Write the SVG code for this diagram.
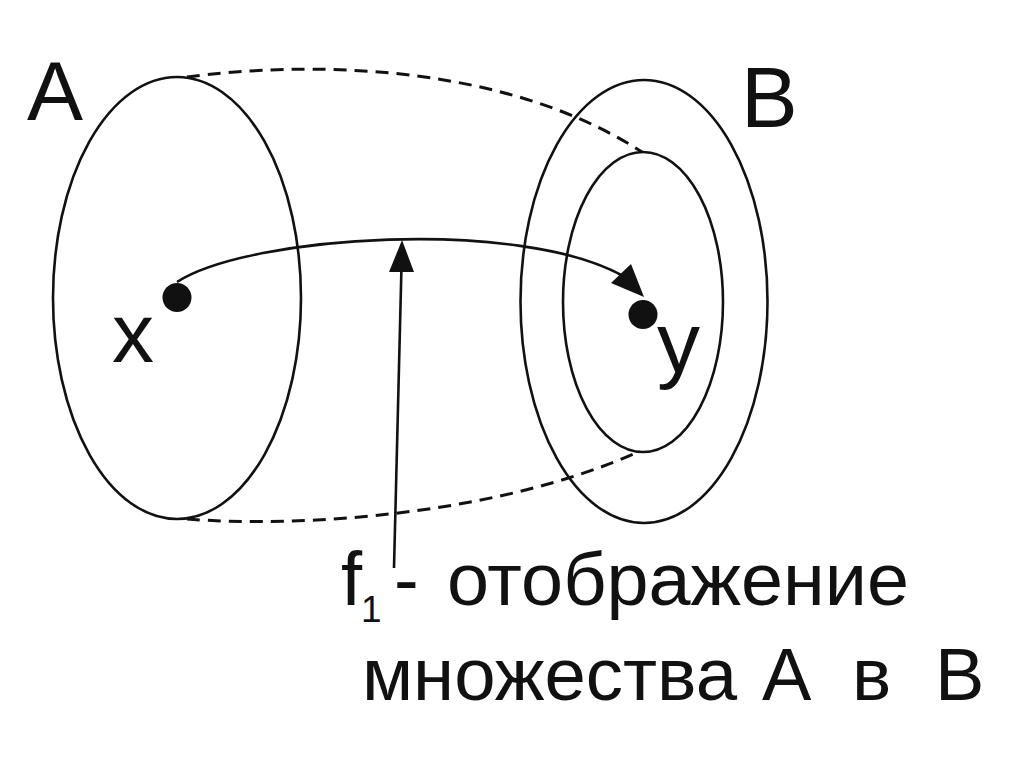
<svg xmlns="http://www.w3.org/2000/svg" width="1024" height="768" viewBox="0 0 1024 768">
  <style>
    .set { fill: none; stroke: #111; stroke-width: 2.6; }
    .dash { fill: none; stroke: #111; stroke-width: 3; stroke-dasharray: 13 8; }
    .line { fill: none; stroke: #111; stroke-width: 2.6; }
    .head { fill: #111; stroke: none; }
    .dot { fill: #111; }
    .lbl { font-family: "Liberation Sans", Arial, sans-serif; fill: #111; }
  </style>
  <rect x="0" y="0" width="1024" height="768" fill="#ffffff"/>

  <g id="setA">
    <ellipse class="set" cx="177" cy="298" rx="124" ry="221"/>
    <text class="lbl" x="27" y="120" font-size="84">A</text>
  </g>

  <g id="setB">
    <ellipse class="set" cx="644" cy="301.5" rx="123.5" ry="221.5"/>
    <text class="lbl" x="741" y="127" font-size="85">B</text>
  </g>

  <g id="imageOfA">
    <ellipse class="set" cx="643" cy="302" rx="80" ry="150"/>
  </g>

  <g id="pointX">
    <circle class="dot" cx="177" cy="297.5" r="14.5"/>
    <text class="lbl" x="112" y="362" font-size="84">x</text>
  </g>

  <g id="pointY">
    <circle class="dot" cx="643" cy="314.5" r="14.5"/>
    <text class="lbl" x="657" y="372" font-size="86">y</text>
  </g>

  <g id="connectors">
    <path class="dash" d="M187,77 C300,62 500,60 642,152"/>
    <path class="dash" d="M187,519 C300,528 500,515 640,451"/>
    <path class="line" d="M177,282 C250,235 520,218 623,276"/>
    <polygon class="head" points="644,297 611,283 631,264"/>
    <line class="line" x1="394" y1="568" x2="401.5" y2="266"/>
    <polygon class="head" points="402,240 389,272 414,272"/>
  </g>

  <g id="caption">
    <text class="lbl" x="341" y="605" font-size="76">f</text>
    <text class="lbl" x="361" y="622" font-size="37">1</text>
    <text class="lbl" x="394" y="605" font-size="74">-</text>
    <text class="lbl" x="447" y="605" font-size="74" textLength="462" lengthAdjust="spacingAndGlyphs">отображение</text>
    <text class="lbl" x="362" y="700" font-size="74" textLength="375" lengthAdjust="spacingAndGlyphs">множества</text>
    <text class="lbl" x="762" y="700" font-size="74">А</text>
    <text class="lbl" x="852" y="700" font-size="74">в</text>
    <text class="lbl" x="935" y="700" font-size="74">В</text>
  </g>
</svg>
